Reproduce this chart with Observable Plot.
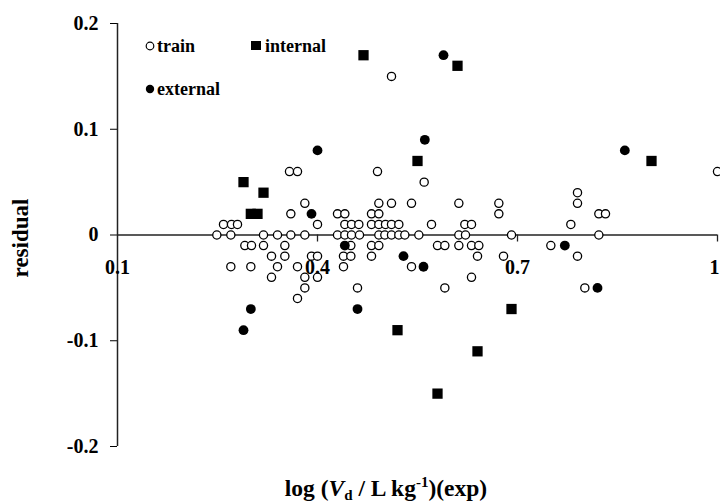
<!DOCTYPE html>
<html><head><meta charset="utf-8">
<script src="https://cdn.jsdelivr.net/npm/d3@7"></script>
<script src="https://cdn.jsdelivr.net/npm/@observablehq/plot@0.6"></script>
<style>body{margin:0;background:#fff}</style>
</head><body><div id="chart"></div>
<script>
// ---- data ----
const trainX = [
  0.511,
  0.358, 0.370, 0.490, 1.000,
  0.560,
  0.790,
  0.381, 0.492, 0.511, 0.541, 0.612, 0.672, 0.790,
  0.360, 0.430, 0.441, 0.481, 0.492, 0.672, 0.822, 0.832,
  0.259, 0.271, 0.280, 0.400, 0.441, 0.451, 0.462, 0.481, 0.492, 0.502, 0.511, 0.522, 0.571, 0.621, 0.631, 0.780,
  0.249, 0.270, 0.319, 0.340, 0.360, 0.381, 0.430, 0.441, 0.451, 0.463, 0.492, 0.501, 0.511, 0.522, 0.531, 0.552, 0.612, 0.622, 0.691, 0.822,
  0.291, 0.301, 0.319, 0.351, 0.450, 0.481, 0.492, 0.580, 0.591, 0.612, 0.631, 0.642, 0.750,
  0.331, 0.351, 0.391, 0.400, 0.439, 0.450, 0.481, 0.640, 0.679, 0.790,
  0.270, 0.300, 0.340, 0.370, 0.439, 0.541,
  0.331, 0.381, 0.400, 0.631,
  0.381, 0.460, 0.591, 0.801,
  0.370
];
const trainY = [
  0.15,
  0.06, 0.06, 0.06, 0.06,
  0.05,
  0.04,
  0.03, 0.03, 0.03, 0.03, 0.03, 0.03, 0.03,
  0.02, 0.02, 0.02, 0.02, 0.02, 0.02, 0.02, 0.02,
  0.01, 0.01, 0.01, 0.01, 0.01, 0.01, 0.01, 0.01, 0.01, 0.01, 0.01, 0.01, 0.01, 0.01, 0.01, 0.01,
  0, 0, 0, 0, 0, 0, 0, 0, 0, 0, 0, 0, 0, 0, 0, 0, 0, 0, 0, 0,
  -0.01, -0.01, -0.01, -0.01, -0.01, -0.01, -0.01, -0.01, -0.01, -0.01, -0.01, -0.01, -0.01,
  -0.02, -0.02, -0.02, -0.02, -0.02, -0.02, -0.02, -0.02, -0.02, -0.02,
  -0.03, -0.03, -0.03, -0.03, -0.03, -0.03,
  -0.04, -0.04, -0.04, -0.04,
  -0.05, -0.05, -0.05, -0.05,
  -0.06
];
const internalX = [0.289, 0.300, 0.310, 0.319, 0.469, 0.550, 0.610, 0.901, 0.691, 0.520, 0.640, 0.580];
const internalY = [0.05, 0.02, 0.02, 0.04, 0.17, 0.07, 0.16, 0.07, -0.07, -0.09, -0.11, -0.15];
const externalX = [0.391, 0.400, 0.441, 0.529, 0.559, 0.561, 0.589, 0.771, 0.820, 0.861, 0.300, 0.289, 0.460];
const externalY = [0.02, 0.08, -0.01, -0.02, -0.03, 0.09, 0.17, -0.01, -0.05, 0.08, -0.07, -0.09, -0.07];

const xTicks = [0.1, 0.4, 0.7, 1.0];
const xTickLabels = ["0.1", "0.4", "0.7", "1"];
const yTicks = [-0.2, -0.1, 0, 0.1, 0.2];
const yTickLabels = ["-0.2", "-0.1", "0", "0.1", "0.2"];
const seriesNames = ["train", "internal", "external"];
const yTitle = "residual";

// ---- build tables ----
const toRows = (xs, ys) => xs.map((x, i) => ({x, y: ys[i]}));
const train = toRows(trainX, trainY);
const internal = toRows(internalX, internalY);
const external = toRows(externalX, externalY);
const xLabelRows = xTicks.map((t, i) => ({x: t, label: xTickLabels[i]}));

const FONT = "'Liberation Serif', 'Times New Roman', serif";
const INK = "#000";
const LINE = "#222";

const plot = Plot.plot({
  width: 720,
  height: 502,
  marginLeft: 117,
  marginRight: 3,
  marginTop: 23,
  marginBottom: 56,
  style: {fontFamily: FONT, fontSize: "20px", fontWeight: "bold", background: "#fff", color: INK},
  x: {domain: [0.1, 1.0], axis: null},
  y: {
    domain: [-0.2, 0.2],
    ticks: yTicks,
    tickSize: 7,
    tickPadding: 12,
    tickFormat: d => yTickLabels[yTicks.findIndex(t => Math.abs(t - d) < 1e-9)],
    label: null
  },
  marks: [
    Plot.ruleX([0.1], {stroke: LINE, strokeWidth: 1.5}),
    Plot.ruleY([0], {stroke: LINE, strokeWidth: 1.5}),
    Plot.ruleX(xTicks.slice(1), {x: d => d, y1: 0, y2: 0, insetBottom: -7, stroke: LINE, strokeWidth: 1.3}),
    Plot.text(xLabelRows.slice(0, -1), {x: "x", y: 0, dy: 33, text: "label", fontSize: 20, fontWeight: "bold", fill: INK}),
    Plot.text(xLabelRows.slice(-1), {x: "x", y: 0, dy: 33, dx: 2, text: "label", textAnchor: "end", fontSize: 20, fontWeight: "bold", fill: INK}),
    Plot.dot(train, {x: "x", y: "y", r: 4.1, stroke: INK, strokeWidth: 1.3, fill: "#fff"}),
    Plot.dot(internal, {x: "x", y: "y", symbol: "square", r: 5.8, fill: INK, stroke: "none"}),
    Plot.dot(external, {x: "x", y: "y", r: 4.9, fill: INK, stroke: "none"})
  ]
});

document.getElementById("chart").appendChild(plot);

// ---- titles and legend ----
const svg = d3.select(plot);

const xt = svg.append("text")
  .attr("x", 386).attr("y", 496)
  .attr("text-anchor", "middle")
  .attr("font-family", FONT).attr("font-size", 23.5).attr("font-weight", "bold").attr("fill", INK);
xt.append("tspan").text("log (");
xt.append("tspan").attr("font-style", "italic").text("V");
xt.append("tspan").attr("font-size", 15).attr("dy", 4).text("d");
xt.append("tspan").attr("dy", -4).text(" / L kg");
xt.append("tspan").attr("font-size", 15).attr("dy", -9).text("-1");
xt.append("tspan").attr("dy", 9).text(")(exp)");

svg.append("text")
  .attr("transform", "translate(28,238) rotate(-90)")
  .attr("text-anchor", "middle")
  .attr("font-family", FONT).attr("font-size", 23).attr("font-weight", "bold").attr("fill", INK)
  .text(yTitle);

const lg = svg.append("g")
  .attr("font-family", FONT).attr("font-size", 18).attr("font-weight", "bold")
  .attr("fill", INK).attr("text-anchor", "start");
lg.append("circle").attr("cx", 150).attr("cy", 46).attr("r", 3.8).attr("fill", "#fff").attr("stroke", INK).attr("stroke-width", 1.2);
lg.append("text").attr("x", 157).attr("y", 52).attr("text-anchor", "start").text(seriesNames[0]);
lg.append("rect").attr("x", 251).attr("y", 41).attr("width", 10).attr("height", 9).attr("fill", INK);
lg.append("text").attr("x", 265).attr("y", 52).attr("text-anchor", "start").text(seriesNames[1]);
lg.append("circle").attr("cx", 150).attr("cy", 89).attr("r", 4.2).attr("fill", INK);
lg.append("text").attr("x", 157).attr("y", 95).attr("text-anchor", "start").text(seriesNames[2]);
</script>
</body></html>
